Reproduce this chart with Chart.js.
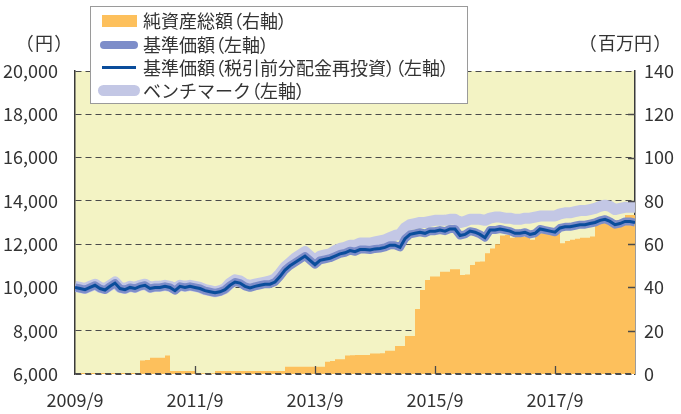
<!DOCTYPE html>
<html><head><meta charset="utf-8">
<script src="https://cdn.jsdelivr.net/npm/chart.js@4.4.1/dist/chart.umd.min.js"></script>
<style>
html,body{margin:0;padding:0;background:#fff;}
#wrap{position:relative;width:681px;height:414px;overflow:hidden;}
#c{position:absolute;left:0;top:0;}
.unit{position:absolute;top:30px;font:18px "Noto Sans CJK JP";color:#333;line-height:24px;white-space:nowrap;}
.unit .p{padding:0 2px;}
#legend{position:absolute;left:90px;top:6px;width:378px;height:98px;background:#fff;border:1px solid #9a9a9a;box-sizing:border-box;font:18px "Noto Sans CJK JP";color:#333;}
.row{position:absolute;left:0;height:23px;width:100%;}
.row span.t{position:absolute;left:52px;top:0;line-height:23px;white-space:nowrap;}
.p{font-feature-settings:"palt";}
.sw{position:absolute;}
</style>
</head><body>
<div id="wrap">
<canvas id="c" width="681" height="414"></canvas>
<div class="unit" style="left:22px;"><span class="p">（</span>円<span class="p">）</span></div>
<div class="unit" style="left:585px;"><span class="p">（</span>百万円<span class="p">）</span></div>
<div id="legend"></div>
</div>
<script>
// ---- data ----
const startYear = 2009, startMonth = 9, monthCount = 113;
const categories = [];
for (let i = 0; i < monthCount; i++) {
  const t = startYear * 12 + (startMonth - 1) + i;
  categories.push(Math.floor(t / 12) + '/' + (t % 12 + 1));
}
const xTickLabels = ['2009/9', '2011/9', '2013/9', '2015/9', '2017/9'];
const seriesNames = ['純資産総額（右軸）', '基準価額（左軸）', '基準価額（税引前分配金再投資）（左軸）', 'ベンチマーク（左軸）'];

const netAssets = [
  0.5,0.5,0.5,0.5,0.5,0.5,0.5,0.5,0.5,0.5,0.5,0.5,0.5,6.2,6.5,7.5,7.5,7.5,8.5,1.4,
  1.4,1.4,1.4,1.4,0.4,0.4,0.4,0.4,1.4,1.4,1.4,1.4,1.4,1.4,1.4,1.4,1.4,1.4,1.4,1.4,
  1.4,1.4,3.4,3.4,3.4,3.4,3.4,3.4,3.4,3.4,5.7,6.0,6.8,6.8,8.6,8.7,8.8,8.8,8.8,9.5,
  9.5,9.6,10.8,10.8,12.9,12.9,17.6,17.6,30,38.8,43.4,45,45,47.3,47.3,48.4,48.4,45.7,46,50.4,
  51.9,52,55.8,58,60,64,64.2,63,63.4,63.4,63.4,62,65,65,65,65,65,60.4,61.5,62,
  62.5,63,63,63.5,68.9,70,72.7,71.2,71,71.2,73.5,73.5,73.5
];
const nav = [
  10000,9950,9900,10000,10100,9950,9880,10050,10200,9950,9900,10000,9950,10050,10100,9950,10000,10000,10050,10000,
  9850,10050,10000,10050,10000,9950,9850,9800,9750,9800,9900,10100,10250,10200,10050,9980,10050,10100,10150,10150,
  10250,10500,10800,11000,11150,11300,11450,11250,11050,11250,11300,11350,11450,11550,11600,11700,11650,11750,11750,11730,
  11780,11800,11850,11950,11950,11850,12250,12450,12500,12550,12500,12600,12600,12650,12600,12700,12700,12400,12450,12600,
  12550,12450,12300,12650,12650,12700,12650,12600,12500,12500,12550,12450,12500,12700,12650,12600,12550,12750,12800,12800,
  12850,12900,12900,12950,13000,13100,13150,13050,12900,12950,13050,13050,13000
];
const navReinvested = [
  10000,9950,9900,10000,10100,9950,9880,10050,10200,9950,9900,10000,9950,10050,10100,9950,10000,10000,10050,10000,
  9850,10050,10000,10050,10000,9950,9850,9800,9750,9800,9900,10100,10250,10200,10050,9980,10050,10100,10150,10150,
  10250,10500,10800,11000,11150,11300,11450,11250,11050,11250,11300,11350,11450,11550,11600,11700,11650,11750,11750,11730,
  11780,11800,11850,11950,11950,11850,12250,12450,12500,12550,12500,12600,12600,12650,12600,12700,12700,12400,12450,12600,
  12550,12450,12300,12650,12650,12700,12650,12600,12500,12500,12550,12450,12500,12700,12650,12600,12550,12750,12800,12800,
  12850,12900,12900,12950,13000,13100,13150,13050,12900,12950,13050,13050,13000
];
const benchmark = [
  10050,10000,9950,10050,10150,10000,9950,10100,10250,10000,9950,10050,10000,10100,10150,10000,10050,10050,10100,10050,
  9950,10100,10050,10100,10050,10000,9900,9850,9800,9850,9950,10200,10350,10300,10150,10100,10150,10200,10250,10300,
  10400,10650,10950,11150,11350,11500,11650,11450,11250,11450,11500,11550,11700,11800,11850,11950,11950,12050,12050,12050,
  12100,12150,12200,12300,12400,12450,12750,12900,12950,13000,13000,13050,13100,13100,13100,13150,13150,13000,13050,13150,
  13150,13150,13100,13200,13250,13250,13200,13200,13150,13150,13200,13200,13250,13300,13300,13300,13300,13400,13450,13450,
  13500,13550,13550,13600,13650,13750,13800,13750,13600,13650,13700,13700,13700
];
const leftTicks = { min: 6000, max: 20000, step: 2000 };
const rightTicks = { min: 0, max: 140, step: 20 };

// ---- styles ----
const C_ORANGE = '#fdc05c', C_BENCH = '#c3c7e5', C_NAV = '#7d8dc9', C_REINV = '#0a4d9b', C_BG = '#f3f3c4';
const TXT = '#333333';
const FONT = '"Noto Sans CJK JP", "Noto Sans", sans-serif';

// legend (HTML)
const legendEl = document.getElementById('legend');
const swatches = [
  'left:11px;top:6px;width:35px;height:12px;background:' + C_ORANGE + ';',
  'left:9px;top:8px;width:38px;height:8px;border-radius:4px;background:' + C_NAV + ';',
  'left:11px;top:10px;width:34px;height:3px;background:' + C_REINV + ';',
  'left:7px;top:6px;width:42px;height:11px;border-radius:6px;background:' + C_BENCH + ';'
];
const rowTops = [2, 26, 49, 72];
seriesNames.forEach((n, i) => {
  const r = document.createElement('div');
  r.className = 'row'; r.style.top = rowTops[i] + 'px';
  const html = n.replace(/[（）]/g, m => '<span class="p">' + m + '</span>');
  r.innerHTML = '<div class="sw" style="' + swatches[i] + '"></div><span class="t">' + html + '</span>';
  legendEl.appendChild(r);
});

const deco = {
  id: 'deco',
  beforeDraw(chart) {
    const { ctx, chartArea: a } = chart;
    ctx.save(); ctx.fillStyle = C_BG;
    ctx.fillRect(a.left, a.top, a.right - a.left, a.bottom - a.top);
    ctx.restore();
  },
  afterDatasetsDraw(chart) {
    const { ctx, chartArea: a, scales } = chart;
    ctx.save();
    ctx.strokeStyle = '#4a4a4a'; ctx.lineWidth = 1;
    ctx.setLineDash([6, 4]);
    ctx.beginPath(); ctx.moveTo(a.left, a.bottom - 0.5); ctx.lineTo(a.right, a.bottom - 0.5); ctx.stroke();
    ctx.setLineDash([]);
    ctx.lineWidth = 1.3;
    ctx.beginPath();
    xTickLabels.forEach((l) => {
      const idx = categories.indexOf(l);
      if (idx <= 0) return;
      const px = Math.round(scales.x.getPixelForValue(idx)) + 0.5;
      ctx.moveTo(px, a.bottom); ctx.lineTo(px, a.bottom - 8);
    });
    for (let v = rightTicks.min + rightTicks.step; v < rightTicks.max; v += rightTicks.step) {
      const py = Math.round(scales.y2.getPixelForValue(v)) + 0.5;
      ctx.moveTo(a.right, py); ctx.lineTo(a.right - 7, py);
    }
    ctx.stroke();
    ctx.restore();
  }
};

new Chart(document.getElementById('c'), {
  type: 'line',
  data: {
    labels: categories,
    datasets: [
      { label: seriesNames[0], data: netAssets, yAxisID: 'y2', stepped: true, fill: 'origin',
        backgroundColor: C_ORANGE, borderWidth: 0, pointRadius: 0, order: 4, clip: 0 },
      { label: seriesNames[3], data: benchmark, yAxisID: 'y', borderColor: C_BENCH, borderWidth: 11,
        pointRadius: 0, fill: false, order: 3, borderJoinStyle: 'round', clip: 0 },
      { label: seriesNames[1], data: nav, yAxisID: 'y', borderColor: C_NAV, borderWidth: 8,
        pointRadius: 0, fill: false, order: 2, borderJoinStyle: 'round', clip: 0 },
      { label: seriesNames[2], data: navReinvested, yAxisID: 'y', borderColor: C_REINV, borderWidth: 3,
        pointRadius: 0, fill: false, order: 1, clip: 0 }
    ]
  },
  options: {
    responsive: false, animation: false, devicePixelRatio: 1,
    layout: { padding: { top: 71, left: 0, right: 0, bottom: 0 } },
    plugins: { legend: { display: false }, tooltip: { enabled: false } },
    scales: {
      x: {
        type: 'category',
        grid: { display: false, drawTicks: false },
        border: { display: false },
        ticks: {
          autoSkip: false, maxRotation: 0, padding: 15, color: TXT,
          font: { family: FONT, size: 18 },
          callback: function (v, i) { const j = xTickLabels.indexOf(categories[i]); return j >= 0 ? xTickLabels[j] : null; }
        },
        afterFit: s => { s.height = 40; }
      },
      y: {
        position: 'left', min: leftTicks.min, max: leftTicks.max,
        grid: { color: '#4a4a4a', lineWidth: 1, drawTicks: false },
        border: { display: true, color: '#3a3a3a', width: 1.5, dash: [6, 4] },
        ticks: { stepSize: leftTicks.step, padding: 17, color: TXT, font: { family: FONT, size: 18 },
          callback: v => v.toLocaleString('en-US') },
        afterFit: s => { s.width = 75; }
      },
      y2: {
        position: 'right', min: rightTicks.min, max: rightTicks.max,
        grid: { display: false, drawTicks: false },
        border: { display: true, color: '#3a3a3a', width: 1.5 },
        ticks: { stepSize: rightTicks.step, padding: 9, color: TXT, font: { family: FONT, size: 18 } },
        afterFit: s => { s.width = 46; }
      }
    }
  },
  plugins: [deco]
});
</script>
</body></html>
